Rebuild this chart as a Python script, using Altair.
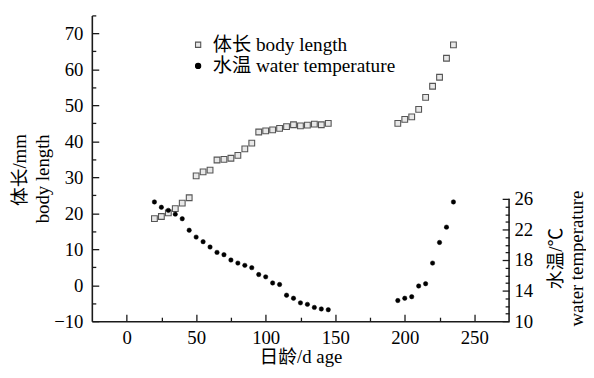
import altair as alt
import pandas as pd

# ---- data ----
days_a = [20, 25, 30, 35, 40, 45, 50, 55, 60, 65, 70, 75, 80, 85, 90,
          95, 100, 105, 110, 115, 120, 125, 130, 135, 140, 145]
length_a = [18.5, 19.1, 20.1, 21.3, 22.8, 24.3, 30.4, 31.5, 32.0, 34.8, 35.0, 35.3, 36.1, 37.9, 39.5,
            42.6, 42.9, 43.2, 43.6, 44.1, 44.6, 44.3, 44.5, 44.8, 44.6, 45.0]
temp_a = [25.6, 24.9, 24.5, 24.0, 23.4, 21.9, 21.0, 20.4, 19.7, 19.0, 18.7, 18.0, 17.6, 17.3, 17.0,
          16.1, 15.8, 15.0, 14.8, 13.4, 13.0, 12.4, 12.2, 11.8, 11.6, 11.5]
days_b = [195, 200, 205, 210, 215, 220, 225, 230, 235]
length_b = [45.0, 46.1, 46.8, 48.9, 52.2, 55.3, 57.8, 63.1, 66.8]
temp_b = [12.7, 13.0, 13.2, 14.6, 14.9, 17.6, 20.3, 22.3, 25.6]

series_names = ["体长 body length", "水温 water temperature"]

x_major = [0, 50, 100, 150, 200, 250]
x_minor = [25, 75, 125, 175, 225]
yl_major = [-10, 0, 10, 20, 30, 40, 50, 60, 70]
yl_minor = [-5, 5, 15, 25, 35, 45, 55, 65, 75]
yr_major = [10, 14, 18, 22, 26]
yr_minor = [11, 12, 13, 15, 16, 17, 19, 20, 21, 23, 24, 25]

days = days_a + days_b
df = pd.DataFrame({
    "day": days + days,
    "value": length_a + length_b + temp_a + temp_b,
    "series": [series_names[0]] * len(days) + [series_names[1]] * len(days),
})

FONT = "Liberation Serif, Noto Sans CJK SC"
INK = "#1a1a1a"

XS = alt.Scale(domain=[-25, 275], nice=False, zero=False)
def YL():
    return alt.Scale(domain=[-10, 75], nice=False, zero=False)
def YR():
    return alt.Scale(domain=[10, 50], nice=False, zero=False)

def tick_axis(orient, values, size):
    return alt.Axis(orient=orient, values=values, offset=-size, tickSize=size,
                    domain=False, labels=False, title=None, grid=False,
                    tickColor=INK, tickWidth=1.3)

legend = alt.Legend(orient="none", legendX=98, legendY=20, title=None,
                    labelFont=FONT, labelFontSize=19.5, labelColor="black", labelLimit=400,
                    symbolSize=28, symbolStrokeWidth=1.1, labelOffset=5,
                    rowPadding=0.5)
shape_enc = alt.Shape("series:N", scale=alt.Scale(domain=series_names, range=["square", "circle"]), legend=legend)
fill_enc = alt.Fill("series:N", scale=alt.Scale(domain=series_names, range=["#e8e8e8", "#000000"]), legend=legend)
stroke_enc = alt.Stroke("series:N", scale=alt.Scale(domain=series_names, range=["#555555", "#000000"]), legend=legend)

base = alt.Chart(df)

length_layer = base.transform_filter(alt.datum.series == series_names[0]).mark_point(
    filled=True, size=34, strokeWidth=1.1, opacity=1
).encode(
    x=alt.X("day:Q", scale=XS,
            axis=alt.Axis(values=x_major, ticks=False, tickSize=0, grid=False,
                          title="日龄/d age", labelPadding=8, titlePadding=0,
                          domainColor=INK, domainWidth=1.6)),
    y=alt.Y("value:Q", scale=YL(),
            axis=alt.Axis(orient="left", values=yl_major, ticks=False, tickSize=0, grid=False,
                          title=["体长/mm", "body length"], labelPadding=9, titlePadding=1,
                          titleLineHeight=24, titleAlign="right", titleY=120,
                          domainColor=INK, domainWidth=1.6)),
    shape=shape_enc, fill=fill_enc, stroke=stroke_enc,
)

temp_layer = base.transform_filter(alt.datum.series == series_names[1]).mark_point(
    filled=True, size=20, strokeWidth=0.5, opacity=1
).encode(
    x=alt.X("day:Q", scale=XS, axis=tick_axis("bottom", x_major, 7)),
    y=alt.Y("value:Q", scale=YR(),
            axis=alt.Axis(orient="right", values=yr_major, ticks=False, tickSize=0, grid=False,
                          domain=False, labelPadding=5,
                          title=["水温/℃", "water temperature"], titleAngle=270,
                          titleBaseline="top", titlePadding=-7, titleLineHeight=21,
                          titleY=246)),
    shape=shape_enc, fill=fill_enc, stroke=stroke_enc,
)

inv1 = base.mark_point(opacity=0).encode(
    x=alt.X("day:Q", scale=XS, axis=tick_axis("bottom", x_minor, 4)),
    y=alt.Y("value:Q", scale=YL(), axis=tick_axis("left", yl_major, 7)),
)
inv2 = base.mark_point(opacity=0).encode(
    x=alt.X("day:Q", scale=XS, axis=None),
    y=alt.Y("value:Q", scale=YL(), axis=tick_axis("left", yl_minor, 4)),
)
inv3 = base.mark_point(opacity=0).encode(
    x=alt.X("day:Q", scale=XS, axis=None),
    y=alt.Y("value:Q", scale=YR(), axis=tick_axis("right", yr_major, 7)),
)
inv4 = base.mark_point(opacity=0).encode(
    x=alt.X("day:Q", scale=XS, axis=None),
    y=alt.Y("value:Q", scale=YR(), axis=tick_axis("right", yr_minor, 4)),
)

right_domain = alt.Chart(pd.DataFrame({"a": [0]})).mark_rule(color=INK, strokeWidth=1.6).encode(
    x=alt.X(datum=275, scale=XS, axis=None),
    y=alt.Y(datum=yr_major[0], scale=YR(), axis=None),
    y2=alt.Y2(datum=yr_major[-1]),
)

chart = alt.layer(
    length_layer, temp_layer, inv1, inv2, inv3, inv4, right_domain
).resolve_scale(
    y="independent"
).resolve_axis(
    x="independent", y="independent"
).properties(
    width=423, height=310,
    autosize=alt.AutoSizeParams(type="none"),
    padding={"left": 85, "top": 5, "right": 78, "bottom": 48},
).configure_view(
    stroke=None
).configure_axis(
    labelFont=FONT, labelFontSize=19, labelColor="black",
    titleFont=FONT, titleFontSize=19, titleFontWeight="normal", titleColor="black",
)

chart.save("out.html", embed_options={"renderer": "svg", "actions": False})
